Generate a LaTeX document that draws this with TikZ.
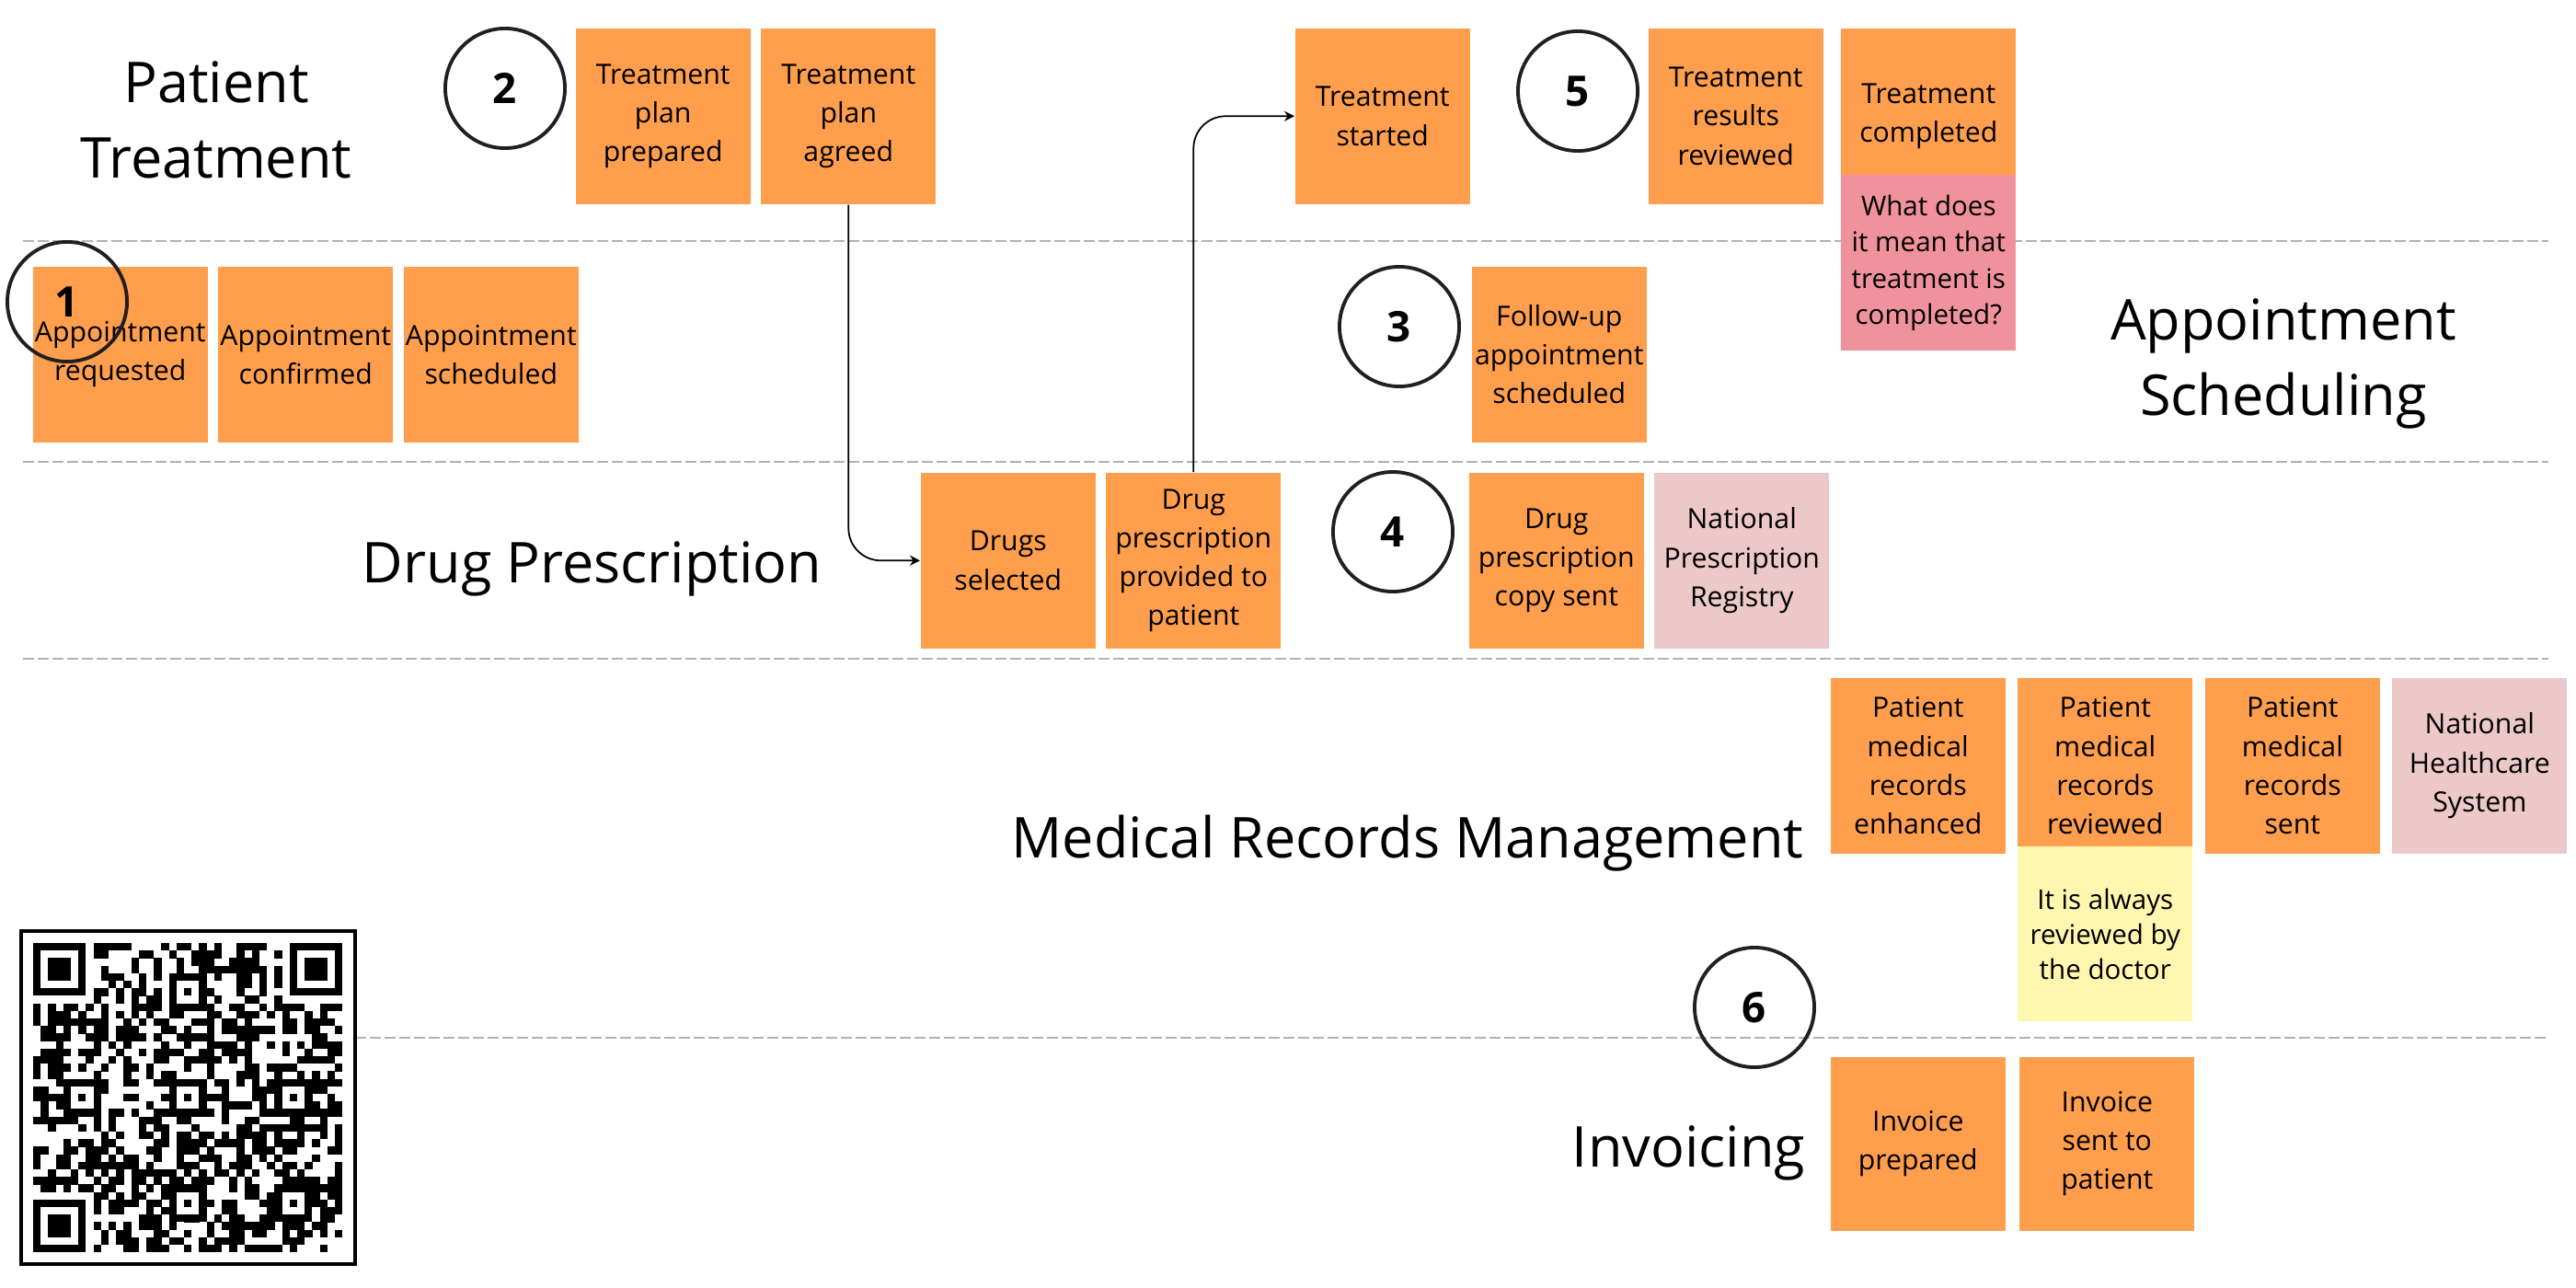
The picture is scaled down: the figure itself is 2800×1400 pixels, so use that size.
\documentclass[tikz,border=0pt]{standalone}
\usepackage{fontspec}
\setmainfont{Open Sans}
\usetikzlibrary{arrows.meta, positioning}
\definecolor{stickyorange}{RGB}{255,159,77}
\definecolor{questionpink}{RGB}{240,146,155}
\definecolor{systempink}{RGB}{236,200,200}
\definecolor{noteyellow}{RGB}{255,247,176}
\definecolor{lanegray}{RGB}{178,178,178}
\definecolor{inkblack}{RGB}{35,31,32}

\begin{document}
\begin{tikzpicture}[
    x=0.01cm, y=-0.01cm,
    event/.style={rectangle, fill=stickyorange, minimum width=1.9cm, minimum height=1.91cm,
                  inner sep=0pt, align=center, font=\fontsize{8.6}{12}\selectfont},
    system/.style={event, fill=systempink},
    hotspot/.style={event, fill=questionpink, font=\fontsize{8.4}{11.2}\selectfont},
    remark/.style={event, fill=noteyellow, minimum height=1.9cm, font=\fontsize{8.4}{10.8}\selectfont},
    marker/.style={circle, draw=inkblack, line width=1.1pt, minimum size=1.3cm, inner sep=0pt,
                   font=\fontsize{13}{15}\selectfont\bfseries},
    lane/.style={align=center, inner sep=0pt, font=\fontsize{17.4}{23.3}\selectfont},
    divider/.style={lanegray, line width=0.8pt, dash pattern=on 1.2mm off 0.4mm},
    arrow/.style={-{Stealth[length=1.1mm, width=1.1mm]}, line width=0.5pt, rounded corners=3.5mm}
]
\useasboundingbox (0,0) rectangle (2800,1400);

% lane dividers
\foreach \ly in {262,502,716}
    \draw[divider] (25,\ly) -- (2770,\ly);
\draw[divider] (386,1128) -- (2770,1128);

% qr code
\draw[line width=1.1pt, fill=white] (23,1012) rectangle (386,1374);
\pgfmathsetseed{1207}
\foreach \qi in {0,...,40}{
    \foreach \qj in {0,...,40}{
        \pgfmathrandominteger{\qrbit}{0}{1}
        \ifnum\qrbit=1 \fill (36+\qi*8.2,1025+\qj*8.2) rectangle ++(8.3,8.3);\fi
    }
}
\foreach \fx/\fy in {0/0, 33/0, 0/33}{
    \fill[white] (36+\fx*8.2,1025+\fy*8.2) rectangle ++(65.6,65.6);
    \fill (36+\fx*8.2+\fx/33*8.2,1025+\fy*8.2+\fy/33*8.2) rectangle ++(57.4,57.4);
    \fill[white] (36+\fx*8.2+\fx/33*8.2+8.2,1025+\fy*8.2+\fy/33*8.2+8.2) rectangle ++(41,41);
    \fill (36+\fx*8.2+\fx/33*8.2+16.4,1025+\fy*8.2+\fy/33*8.2+16.4) rectangle ++(24.6,24.6);
}
\foreach \ax/\ay in {18/4, 4/18, 18/18, 32/18, 18/32, 32/32}{
    \fill (36+\ax*8.2,1025+\ay*8.2) rectangle ++(41,41);
    \fill[white] (36+\ax*8.2+8.2,1025+\ay*8.2+8.2) rectangle ++(24.6,24.6);
    \fill (36+\ax*8.2+16.4,1025+\ay*8.2+16.4) rectangle ++(8.2,8.2);
}

% patient treatment
\node[event, anchor=north west] (planprep) at (625,30) {Treatment\\plan\\prepared};
\node[event, right=1mm of planprep] (planagreed) {Treatment\\plan\\agreed};
\node[event, anchor=north west] (started) at (1407,30) {Treatment\\started};
\node[event, anchor=north west] (resreviewed) at (1791,30) {Treatment\\results\\reviewed};
\node[event, right=1.8mm of resreviewed] (completed) {Treatment\\completed};
\node[hotspot, anchor=north] (meaning) at ([yshift=3.3mm]completed.south) {What does\\it mean that\\treatment is\\completed?};

% appointment scheduling
\node[event, anchor=north west] (apprequested) at (35,289) {Appointment\\requested};
\node[event, right=1mm of apprequested] (appconfirmed) {Appointment\\confirmed};
\node[event, right=1mm of appconfirmed] (appscheduled) {Appointment\\scheduled};
\node[event, anchor=north west] (followup) at (1599,289) {Follow-up\\appointment\\scheduled};

% drug prescription
\node[event, anchor=north west] (drugsel) at (1000,513) {Drugs\\selected};
\node[event, right=1mm of drugsel] (drugprov) {Drug\\prescription\\provided to\\patient};
\node[event, anchor=north west] (copysent) at (1596,513) {Drug\\prescription\\copy sent};
\node[system, right=1mm of copysent] (registry) {National\\Prescription\\Registry};

% medical records
\node[event, anchor=north west] (recenh) at (1989,736) {Patient\\medical\\records\\enhanced};
\node[event, right=1.2mm of recenh] (recrev) {Patient\\medical\\records\\reviewed};
\node[remark, anchor=north] (doctor) at ([yshift=0.9mm]recrev.south) {It is always\\reviewed by\\the doctor};
\node[event, right=1.2mm of recrev] (recsent) {Patient\\medical\\records\\sent};
\node[system, right=1.2mm of recsent] (nhs) {National\\Healthcare\\System};

% invoicing
\node[event, anchor=north west, minimum height=1.89cm] (invprep) at (1989,1148) {Invoice\\prepared};
\node[event, right=1.4mm of invprep, minimum height=1.89cm] (invsent) {Invoice\\sent to\\patient};

% lane titles
\node[lane] (lanetreat) at (235,130) {Patient\\Treatment};
\node[lane] (lanesched) at (2482,395) {Appointment\\Scheduling};
\node[lane, anchor=base east] (lanedrug) at (894,633) {Drug Prescription};
\node[lane, anchor=base east] (lanerecords) at (1961,932) {Medical Records Management};
\node[lane, anchor=base east] (laneinvoice) at (1963,1268) {Invoicing};

% step markers
\node[marker] (m1) at (73,328) {1};
\node[marker] (m2) at (549,96) {2};
\node[marker] (m3) at (1521,355) {3};
\node[marker] (m4) at (1514,578) {4};
\node[marker] (m5) at (1715,99) {5};
\node[marker] (m6) at (1907,1095) {6};

\draw[arrow] (planagreed.south) |- (drugsel.west);
\draw[arrow] (drugprov.north) |- (started.west);
\end{tikzpicture}
\end{document}
